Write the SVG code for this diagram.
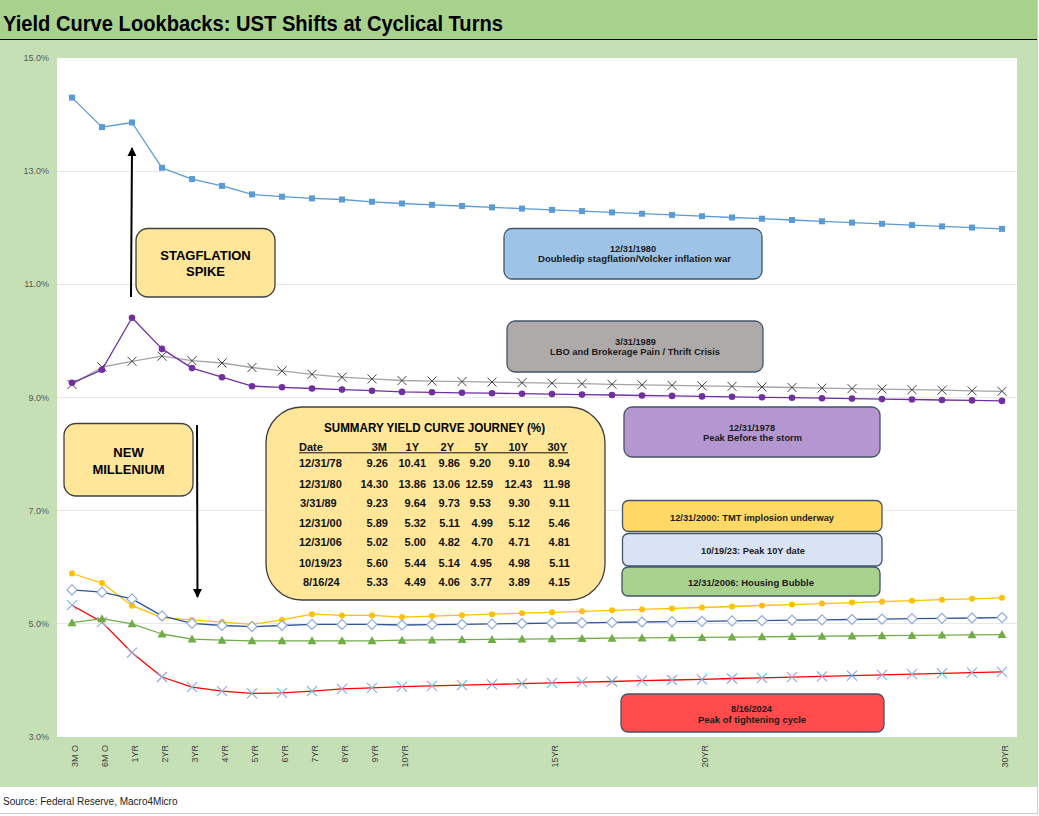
<svg xmlns="http://www.w3.org/2000/svg" width="1039" height="816" viewBox="0 0 1039 816">
<style>
.ax{font-family:'Liberation Sans',Arial,sans-serif;font-size:9px;fill:#595959}
.xl{font-family:'Liberation Sans',Arial,sans-serif;font-size:9px;fill:#404040;text-anchor:end}
.ttl{font-family:'Liberation Sans',Arial,sans-serif;font-size:22px;font-weight:bold;fill:#000}
.big{font-family:'Liberation Sans',Arial,sans-serif;font-size:13px;font-weight:bold;fill:#000;text-anchor:middle}
.lbl{font-family:'Liberation Sans',Arial,sans-serif;font-size:9.5px;font-weight:bold;fill:#1a1a1a;text-anchor:middle}
.tb{font-family:'Liberation Sans',Arial,sans-serif;font-size:11px;font-weight:bold;fill:#111}
.tr{text-anchor:end}
.src{font-family:'Liberation Sans',Arial,sans-serif;font-size:10px;fill:#222}
.grid{stroke:#e8e8e8;stroke-width:1}
.yel{fill:#ffe699;stroke:#404040;stroke-width:1.3}
.lb{stroke:#44546a;stroke-width:1.3}
.ser{fill:none;stroke-width:1.3;stroke-linejoin:round}
.arr{stroke:#000;stroke-width:2;fill:none}
</style>
<defs>
<marker id="mSq" markerUnits="userSpaceOnUse" overflow="visible" refX="0" refY="0" markerWidth="8" markerHeight="8"><rect x="-3" y="-3" width="6" height="6" fill="#5b9bd5"/></marker>
<marker id="mPur" markerUnits="userSpaceOnUse" overflow="visible" refX="0" refY="0" markerWidth="8" markerHeight="8"><circle r="3.3" fill="#7030a0"/></marker>
<marker id="mXk" markerUnits="userSpaceOnUse" overflow="visible" refX="0" refY="0" markerWidth="10" markerHeight="10"><path d="M-4.5,-4.5L4.5,4.5M-4.5,4.5L4.5,-4.5" stroke="#404040" stroke-width="1"/></marker>
<marker id="mGold" markerUnits="userSpaceOnUse" overflow="visible" refX="0" refY="0" markerWidth="8" markerHeight="8"><circle r="3" fill="#ffc000"/></marker>
<marker id="mDia" markerUnits="userSpaceOnUse" overflow="visible" refX="0" refY="0" markerWidth="12" markerHeight="12"><path d="M0,-5L5,0L0,5L-5,0Z" fill="#fff" stroke="#8faadc" stroke-width="1.2"/></marker>
<marker id="mTri" markerUnits="userSpaceOnUse" overflow="visible" refX="0" refY="0" markerWidth="10" markerHeight="10"><path d="M0,-4.5L4.5,3.5L-4.5,3.5Z" fill="#70ad47"/></marker>
<marker id="mXb" markerUnits="userSpaceOnUse" overflow="visible" refX="0" refY="0" markerWidth="12" markerHeight="12"><path d="M-5,-5L5,5M-5,5L5,-5" stroke="#8faadc" stroke-width="1.2"/></marker>
<marker id="ah" viewBox="0 0 10 10" refX="9" refY="5" markerUnits="userSpaceOnUse" markerWidth="9" markerHeight="10" orient="auto"><path d="M0,0L10,5L0,10Z" fill="#000"/></marker>
</defs>

<rect x="0" y="0" width="1039" height="816" fill="#fff"/>
<rect x="0" y="0" width="1037" height="39" fill="#a9d18e"/>
<line x1="0" y1="39.5" x2="1037" y2="39.5" stroke="#000" stroke-width="1.2"/>
<rect x="0" y="40" width="1037" height="747" fill="#c5e0b4"/>
<line x1="1037.5" y1="0" x2="1037.5" y2="815" stroke="#d0d0d0"/>
<line x1="0" y1="813.5" x2="1038" y2="813.5" stroke="#d0d0d0"/>
<text class="ttl" x="3" y="31" textLength="500" lengthAdjust="spacingAndGlyphs">Yield Curve Lookbacks: UST Shifts at Cyclical Turns</text>
<text class="src" x="3" y="805">Source: Federal Reserve, Macro4Micro</text>

<g id="plot">
<rect x="57" y="58" width="960" height="679" fill="#fff"/>
<line class="grid" x1="57" y1="171.5" x2="1017" y2="171.5"/>
<line class="grid" x1="57" y1="284.5" x2="1017" y2="284.5"/>
<line class="grid" x1="57" y1="397.5" x2="1017" y2="397.5"/>
<line class="grid" x1="57" y1="510.5" x2="1017" y2="510.5"/>
<line class="grid" x1="57" y1="623.5" x2="1017" y2="623.5"/>
</g>

<g id="y-axis" text-anchor="end">
<text class="ax" x="49" y="61">15.0%</text>
<text class="ax" x="49" y="174">13.0%</text>
<text class="ax" x="49" y="287">11.0%</text>
<text class="ax" x="49" y="401">9.0%</text>
<text class="ax" x="49" y="514">7.0%</text>
<text class="ax" x="49" y="627">5.0%</text>
<text class="ax" x="49" y="740">3.0%</text>
</g>

<g id="x-axis">
<text class="xl" transform="translate(77.5,745) rotate(-90)">3M O</text>
<text class="xl" transform="translate(107.5,745) rotate(-90)">6M O</text>
<text class="xl" transform="translate(137.5,745) rotate(-90)">1YR</text>
<text class="xl" transform="translate(167.5,745) rotate(-90)">2YR</text>
<text class="xl" transform="translate(197.5,745) rotate(-90)">3YR</text>
<text class="xl" transform="translate(227.5,745) rotate(-90)">4YR</text>
<text class="xl" transform="translate(257.5,745) rotate(-90)">5YR</text>
<text class="xl" transform="translate(287.5,745) rotate(-90)">6YR</text>
<text class="xl" transform="translate(317.5,745) rotate(-90)">7YR</text>
<text class="xl" transform="translate(347.5,745) rotate(-90)">8YR</text>
<text class="xl" transform="translate(377.5,745) rotate(-90)">9YR</text>
<text class="xl" transform="translate(407.5,745) rotate(-90)">10YR</text>
<text class="xl" transform="translate(557.5,745) rotate(-90)">15YR</text>
<text class="xl" transform="translate(707.5,745) rotate(-90)">20YR</text>
<text class="xl" transform="translate(1007.5,745) rotate(-90)">30YR</text>
</g>

<g id="series">
<polyline id="s1989" class="ser" stroke="#a5a5a5" marker-start="url(#mXk)" marker-mid="url(#mXk)" marker-end="url(#mXk)" points="72,384.5 102,367.0 132,361.3 162,356.2 192,360.7 222,363.0 252,367.5 282,370.9 312,374.3 342,377.2 372,378.9 402,380.5 432,381.1 462,381.6 492,382.1 522,382.7 552,383.2 582,383.7 612,384.3 642,384.8 672,385.4 702,385.9 732,386.4 762,387.0 792,387.5 822,388.1 852,388.6 882,389.1 912,389.7 942,390.2 972,390.8 1002,391.3"/>
<polyline id="s1978" class="ser" stroke="#7030a0" marker-start="url(#mPur)" marker-mid="url(#mPur)" marker-end="url(#mPur)" points="72,382.8 102,369.8 132,317.7 162,348.9 192,368.1 222,377.2 252,386.2 282,387.3 312,388.5 342,389.6 372,390.7 402,391.9 432,392.3 462,392.8 492,393.2 522,393.7 552,394.1 582,394.6 612,395.0 642,395.5 672,395.9 702,396.4 732,396.8 762,397.3 792,397.7 822,398.2 852,398.6 882,399.1 912,399.5 942,400.0 972,400.4 1002,400.9"/>
<polyline id="s1980" class="ser" stroke="#5b9bd5" marker-start="url(#mSq)" marker-mid="url(#mSq)" marker-end="url(#mSq)" points="72,97.6 102,127.1 132,122.5 162,167.8 192,179.1 222,185.9 252,194.4 282,196.7 312,198.4 342,199.5 372,201.8 402,203.5 432,204.8 462,206.0 492,207.3 522,208.6 552,209.9 582,211.1 612,212.4 642,213.7 672,214.9 702,216.2 732,217.5 762,218.7 792,220.0 822,221.3 852,222.6 882,223.8 912,225.1 942,226.4 972,227.6 1002,228.9"/>
<polyline id="s2024" class="ser" stroke="#ff0000" marker-start="url(#mXb)" marker-mid="url(#mXb)" marker-end="url(#mXb)" points="72,605.2 102,622.1 132,652.7 162,677.0 192,687.2 222,691.2 252,693.4 282,692.9 312,691.2 342,688.9 372,687.8 402,686.6 432,685.9 462,685.1 492,684.4 522,683.7 552,682.9 582,682.2 612,681.5 642,680.7 672,680.0 702,679.3 732,678.5 762,677.8 792,677.1 822,676.3 852,675.6 882,674.9 912,674.1 942,673.4 972,672.6 1002,671.9"/>
<polyline id="s2006" class="ser" stroke="#70ad47" marker-start="url(#mTri)" marker-mid="url(#mTri)" marker-end="url(#mTri)" points="72,622.7 102,618.7 132,623.8 162,634.0 192,639.1 222,640.2 252,640.8 282,640.8 312,640.8 342,640.8 372,640.8 402,640.2 432,639.9 462,639.6 492,639.4 522,639.1 552,638.8 582,638.5 612,638.2 642,637.9 672,637.7 702,637.4 732,637.1 762,636.8 792,636.5 822,636.2 852,636.0 882,635.7 912,635.4 942,635.1 972,634.8 1002,634.6"/>
<polyline id="s2000" class="ser" stroke="#ffc000" marker-start="url(#mGold)" marker-mid="url(#mGold)" marker-end="url(#mGold)" points="72,573.5 102,583.1 132,605.7 162,617.6 192,619.9 222,622.1 252,624.4 282,619.9 312,614.2 342,615.4 372,615.4 402,617.1 432,616.1 462,615.2 492,614.2 522,613.2 552,612.3 582,611.3 612,610.3 642,609.4 672,608.4 702,607.5 732,606.5 762,605.5 792,604.6 822,603.6 852,602.6 882,601.7 912,600.7 942,599.7 972,598.8 1002,597.8"/>
<polyline id="s2023" class="ser" stroke="#2f5597" marker-start="url(#mDia)" marker-mid="url(#mDia)" marker-end="url(#mDia)" points="72,589.9 102,592.2 132,598.9 162,615.9 192,623.3 222,625.5 252,626.7 282,625.5 312,624.4 342,624.4 372,624.4 402,625.0 432,624.6 462,624.3 492,623.9 522,623.5 552,623.2 582,622.8 612,622.4 642,622.0 672,621.7 702,621.3 732,620.9 762,620.6 792,620.2 822,619.8 852,619.5 882,619.1 912,618.7 942,618.3 972,618.0 1002,617.6"/>
</g>

<g id="connectors">
<line class="arr" x1="131" y1="297" x2="132" y2="148" marker-end="url(#ah)"/>
<line class="arr" x1="197" y1="425" x2="197.5" y2="597" marker-end="url(#ah)"/>
</g>

<g id="stagflation-spike">
<rect class="yel" x="136" y="228.5" width="139" height="68.5" rx="12"/>
<text class="big" x="205.5" y="259.5">STAGFLATION</text>
<text class="big" x="205.5" y="276">SPIKE</text>
</g>

<g id="new-millenium">
<rect class="yel" x="64" y="423.5" width="129" height="72.5" rx="12"/>
<text class="big" x="128.5" y="457">NEW</text>
<text class="big" x="128.5" y="473.5">MILLENIUM</text>
</g>

<g id="summary-table">
<rect class="yel" x="266" y="407" width="339" height="193" rx="36"/>
<text class="big" x="434.5" y="431.5" textLength="221" lengthAdjust="spacingAndGlyphs">SUMMARY YIELD CURVE JOURNEY (%)</text>
<line x1="299" y1="452.8" x2="568" y2="452.8" stroke="#111" stroke-width="1"/>
<text class="tb" x="299" y="451">Date</text>
<text class="tb tr" x="387" y="451">3M</text>
<text class="tb tr" x="419" y="451">1Y</text>
<text class="tb tr" x="454" y="451">2Y</text>
<text class="tb tr" x="488" y="451">5Y</text>
<text class="tb tr" x="528" y="451">10Y</text>
<text class="tb tr" x="567" y="451">30Y</text>

<text class="tb" x="299" y="467">12/31/78</text>
<text class="tb tr" x="388" y="467">9.26</text><text class="tb tr" x="426" y="467">10.41</text><text class="tb tr" x="460" y="467">9.86</text><text class="tb tr" x="491" y="467">9.20</text><text class="tb tr" x="530" y="467">9.10</text><text class="tb tr" x="570" y="467">8.94</text>

<text class="tb" x="299" y="488">12/31/80</text>
<text class="tb tr" x="388" y="488">14.30</text><text class="tb tr" x="426" y="488">13.86</text><text class="tb tr" x="460" y="488">13.06</text><text class="tb tr" x="493" y="488">12.59</text><text class="tb tr" x="532" y="488">12.43</text><text class="tb tr" x="570" y="488">11.98</text>

<text class="tb" x="300" y="507">3/31/89</text>
<text class="tb tr" x="388" y="507">9.23</text><text class="tb tr" x="426" y="507">9.64</text><text class="tb tr" x="460" y="507">9.73</text><text class="tb tr" x="491" y="507">9.53</text><text class="tb tr" x="530" y="507">9.30</text><text class="tb tr" x="570" y="507">9.11</text>

<text class="tb" x="299" y="527">12/31/00</text>
<text class="tb tr" x="388" y="527">5.89</text><text class="tb tr" x="426" y="527">5.32</text><text class="tb tr" x="460" y="527">5.11</text><text class="tb tr" x="493" y="527">4.99</text><text class="tb tr" x="530" y="527">5.12</text><text class="tb tr" x="570" y="527">5.46</text>

<text class="tb" x="299" y="546">12/31/06</text>
<text class="tb tr" x="388" y="546">5.02</text><text class="tb tr" x="426" y="546">5.00</text><text class="tb tr" x="460" y="546">4.82</text><text class="tb tr" x="493" y="546">4.70</text><text class="tb tr" x="530" y="546">4.71</text><text class="tb tr" x="570" y="546">4.81</text>

<text class="tb" x="299" y="567">10/19/23</text>
<text class="tb tr" x="388" y="567">5.60</text><text class="tb tr" x="426" y="567">5.44</text><text class="tb tr" x="460" y="567">5.14</text><text class="tb tr" x="492" y="567">4.95</text><text class="tb tr" x="530" y="567">4.98</text><text class="tb tr" x="570" y="567">5.11</text>

<text class="tb" x="303" y="586">8/16/24</text>
<text class="tb tr" x="388" y="586">5.33</text><text class="tb tr" x="426" y="586">4.49</text><text class="tb tr" x="460" y="586">4.06</text><text class="tb tr" x="492" y="586">3.77</text><text class="tb tr" x="530" y="586">3.89</text><text class="tb tr" x="570" y="586">4.15</text>
</g>

<g id="label-1980">
<rect class="lb" x="504" y="228.5" width="258" height="50.5" rx="8" fill="#9dc3e6"/>
<text class="lbl" x="633" y="251.5" textLength="46" lengthAdjust="spacingAndGlyphs">12/31/1980</text>
<text class="lbl" x="634.5" y="261.5" textLength="193" lengthAdjust="spacingAndGlyphs">Doubledip stagflation/Volcker inflation war</text>
</g>

<g id="label-1989">
<rect class="lb" x="507" y="321" width="256" height="51" rx="8" fill="#aeaaaa"/>
<text class="lbl" x="635.5" y="345" textLength="41" lengthAdjust="spacingAndGlyphs">3/31/1989</text>
<text class="lbl" x="635" y="355" textLength="170" lengthAdjust="spacingAndGlyphs">LBO and Brokerage Pain / Thrift Crisis</text>
</g>

<g id="label-1978">
<rect class="lb" x="624" y="407" width="256" height="50" rx="8" fill="#b497d0"/>
<text class="lbl" x="752" y="430.5" textLength="46" lengthAdjust="spacingAndGlyphs">12/31/1978</text>
<text class="lbl" x="752.5" y="440.5" textLength="99" lengthAdjust="spacingAndGlyphs">Peak Before the storm</text>
</g>

<g id="label-2000">
<rect class="lb" x="622.5" y="500.5" width="259.5" height="31" rx="6" fill="#ffd966"/>
<text class="lbl" x="752" y="520.5" textLength="164" lengthAdjust="spacingAndGlyphs">12/31/2000: TMT  implosion underway</text>
</g>

<g id="label-2023">
<rect class="lb" x="622.5" y="533.5" width="259.5" height="32.5" rx="6" fill="#dae3f3"/>
<text class="lbl" x="753" y="553.5" textLength="104" lengthAdjust="spacingAndGlyphs">10/19/23: Peak 10Y  date</text>
</g>

<g id="label-2006">
<rect class="lb" x="622" y="567" width="258" height="29" rx="6" fill="#a9d18e"/>
<text class="lbl" x="751" y="585.5" textLength="126" lengthAdjust="spacingAndGlyphs">12/31/2006: Housing Bubble</text>
</g>

<g id="label-2024">
<rect class="lb" x="621" y="694" width="263" height="38" rx="7" fill="#ff4b4b"/>
<text class="lbl" x="751.5" y="711.5" textLength="41" lengthAdjust="spacingAndGlyphs">8/16/2024</text>
<text class="lbl" x="752" y="722.5" textLength="108" lengthAdjust="spacingAndGlyphs">Peak of tightening cycle</text>
</g>
</svg>
